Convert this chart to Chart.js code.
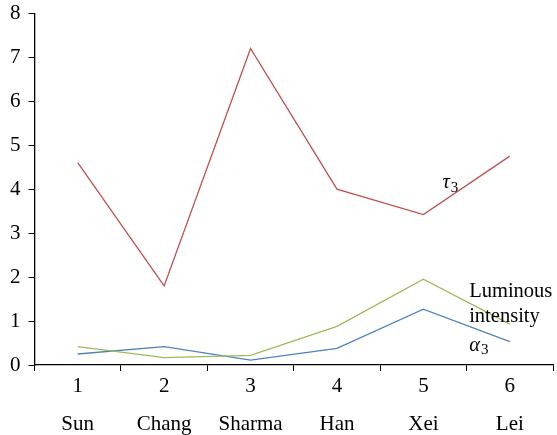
<!DOCTYPE html>
<html>
<head>
<meta charset="utf-8">
<script src="https://cdn.jsdelivr.net/npm/chart.js@4/dist/chart.umd.min.js"></script>
<style>
    html, body { margin: 0; padding: 0; background: #fff; }
    #wrap { width: 557px; height: 435px; }
</style>
</head>
<body>
<div id="wrap"><canvas id="chart"></canvas></div>
<script>
const indexLabels = ['1', '2', '3', '4', '5', '6'];
const authors = ['Sun', 'Chang', 'Sharma', 'Han', 'Xei', 'Lei'];
const tau3 = [4.6, 1.8, 7.2, 4.0, 3.42, 4.75];
const luminous = [0.42, 0.17, 0.22, 0.88, 1.95, 0.93];
const alpha3 = [0.25, 0.42, 0.11, 0.38, 1.27, 0.53];
const yTicks = [0, 1, 2, 3, 4, 5, 6, 7, 8];

const serif = '"Liberation Serif", "DejaVu Serif", serif';

// text labels placed next to the lines, in data units
const notes = [
    { text: 'τ', sub: '3', x: 4.22, y: 4.14, italic: true },
    { text: 'Luminous', x: 4.53, y: 1.68 },
    { text: 'intensity', x: 4.53, y: 1.1 },
    { text: 'α', sub: '3', x: 4.53, y: 0.45, italic: true }
];

const notePlugin = {
    id: 'notes',
    afterDatasetsDraw(chart) {
        const ctx = chart.ctx;
        const xs = chart.scales.x;
        const ys = chart.scales.y;
        ctx.save();
        ctx.fillStyle = '#000';
        ctx.textBaseline = 'middle';
        ctx.textAlign = 'left';
        notes.forEach(n => {
            const px = xs.getPixelForValue(n.x);
            const py = ys.getPixelForValue(n.y);
            ctx.font = (n.italic ? 'italic ' : '') + '20.5px ' + serif;
            ctx.fillText(n.text, px, py);
            if (n.sub) {
                const w = ctx.measureText(n.text).width;
                ctx.font = '15px ' + serif;
                ctx.fillText(n.sub, px + w + 1, py + 5);
            }
        });
        ctx.restore();
    }
};

new Chart(document.getElementById('chart'), {
    type: 'line',
    data: {
        // number on the first line, author two half-lines below
        labels: indexLabels.map((n, i) => [n, '', authors[i]]),
        datasets: [
            { label: 'τ3', data: tau3, borderColor: '#c0504d' },
            { label: 'Luminous intensity', data: luminous, borderColor: '#9bbb59' },
            { label: 'α3', data: alpha3, borderColor: '#4f81bd' }
        ]
    },
    options: {
        responsive: true,
        maintainAspectRatio: false,
        animation: false,
        layout: { padding: { top: 0, right: 4, left: 2, bottom: 0 } },
        elements: {
            line: { borderWidth: 1.3, tension: 0, fill: false },
            point: { radius: 0, hoverRadius: 0 }
        },
        plugins: {
            legend: { display: false },
            tooltip: { enabled: false }
        },
        scales: {
            x: {
                offset: true,
                afterFit: scale => { scale.height = 70; },
                grid: {
                    offset: true,
                    drawOnChartArea: false,
                    drawTicks: true,
                    tickLength: 6,
                    color: '#000'
                },
                border: { display: true, color: '#000', width: 1.3 },
                ticks: {
                    color: '#000',
                    font: { family: serif, size: 21, lineHeight: 0.9 },
                    padding: 6,
                    maxRotation: 0,
                    autoSkip: false
                }
            },
            y: {
                min: 0,
                max: 8,
                afterBuildTicks: axis => { axis.ticks = yTicks.map(v => ({ value: v })); },
                grid: {
                    drawOnChartArea: false,
                    drawTicks: true,
                    tickLength: 6,
                    color: '#000'
                },
                border: { display: true, color: '#000', width: 1.3 },
                ticks: {
                    color: '#000',
                    font: { family: serif, size: 21, lineHeight: 0.5 },
                    padding: 8
                }
            }
        }
    },
    plugins: [notePlugin]
});
</script>
</body>
</html>
